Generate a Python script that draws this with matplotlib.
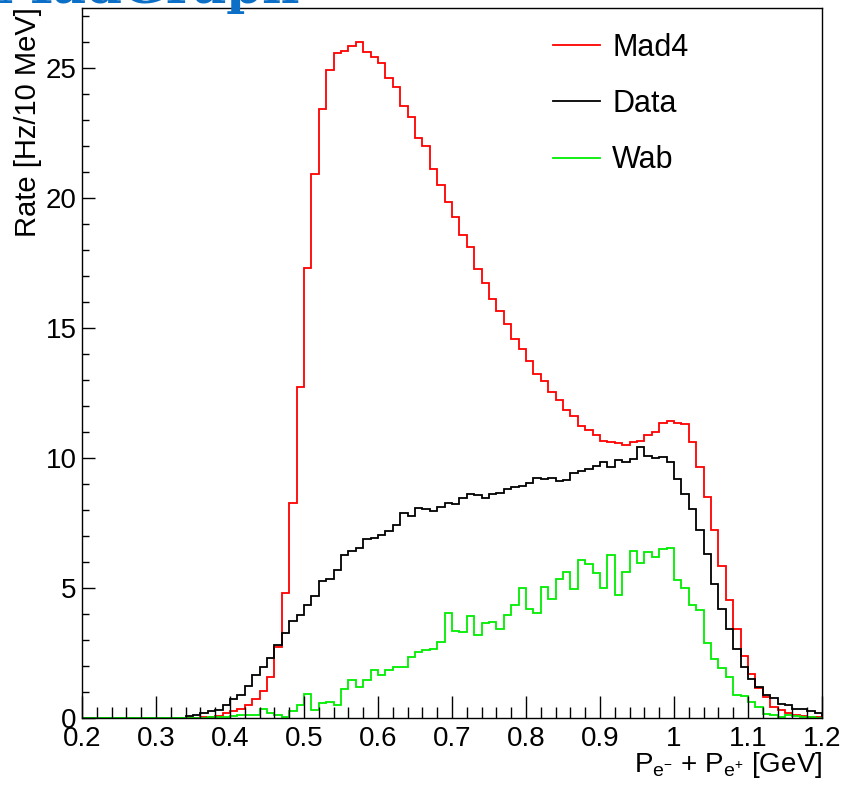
import numpy as np
import matplotlib
matplotlib.use("Agg")
import matplotlib.pyplot as plt
from matplotlib.ticker import MultipleLocator, FormatStrFormatter

plt.rcParams["font.family"] = ["Liberation Sans", "DejaVu Sans"]
plt.rcParams["mathtext.fontset"] = "custom"
plt.rcParams["mathtext.rm"] = "Liberation Sans"
plt.rcParams["mathtext.it"] = "Liberation Sans"

# 10 MeV bins from 0.2 to 1.2 GeV
x_lo, x_hi, n_bins = 0.2, 1.2, 100

mad4 = [
    0, 0, 0, 0, 0, 0, 0, 0, 0, 0,
    0, 0, 0, 0, 0, 0, 0.02, 0.04, 0.09, 0.18,
    0.26, 0.33, 0.49, 0.72, 1.03, 1.56, 2.74, 4.82, 8.27, 12.74,
    17.3, 20.9, 23.4, 24.9, 25.56, 25.64, 25.85, 26.0, 25.6, 25.4,
    25.2, 24.6, 24.25, 23.55, 23.1, 22.3, 22.0, 21.1, 20.5, 19.85,
    19.28, 18.59, 18.1, 17.28, 16.72, 16.13, 15.64, 15.15, 14.59, 14.2,
    13.74, 13.23, 12.97, 12.54, 12.23, 11.85, 11.6, 11.23, 11.08, 10.9,
    10.67, 10.6, 10.56, 10.49, 10.6, 10.67, 10.9, 11.0, 11.36, 11.41,
    11.36, 11.3, 10.6, 9.67, 8.5, 7.23, 5.85, 4.54, 3.41, 2.38,
    1.69, 1.15, 0.82, 0.43, 0.31, 0.2, 0.13, 0.08, 0.05, 0.03,
]

data = [
    0, 0, 0, 0, 0, 0, 0, 0, 0, 0,
    0, 0, 0, 0, 0.08, 0.13, 0.18, 0.26, 0.31, 0.49,
    0.72, 0.9, 1.23, 1.64, 1.95, 2.31, 2.82, 3.26, 3.72, 3.97,
    4.36, 4.69, 5.26, 5.36, 5.69, 6.26, 6.44, 6.54, 6.87, 6.92,
    7.03, 7.2, 7.44, 7.9, 7.77, 8.08, 8.05, 7.97, 8.1, 8.28,
    8.23, 8.44, 8.62, 8.56, 8.44, 8.62, 8.67, 8.82, 8.87, 8.92,
    9.05, 9.23, 9.18, 9.23, 9.1, 9.15, 9.43, 9.51, 9.59, 9.69,
    9.85, 9.67, 9.92, 9.85, 9.97, 10.41, 10.08, 10.0, 10.05, 9.85,
    9.2, 8.62, 8.05, 7.23, 6.31, 5.15, 4.2, 3.43, 2.67, 1.97,
    1.49, 1.18, 0.87, 0.77, 0.54, 0.49, 0.33, 0.33, 0.26, 0.18,
]

wab = [
    0, 0, 0, 0, 0, 0, 0, 0, 0, 0,
    0, 0, 0, 0, 0, 0, 0, 0.03, 0.05, 0.03,
    0.08, 0.1, 0.1, 0.13, 0.36, 0.2, 0.13, 0.05, 0.28, 0.49,
    0.92, 0.31, 0.56, 0.62, 0.49, 1.13, 1.46, 1.2, 1.46, 1.85,
    1.64, 1.85, 1.95, 1.95, 2.36, 2.54, 2.62, 2.67, 2.92, 4.03,
    3.36, 3.31, 3.92, 3.2, 3.64, 3.69, 3.43, 3.97, 4.36, 5.0,
    4.2, 4.03, 5.05, 4.59, 5.33, 5.62, 4.97, 6.08, 5.92, 5.59,
    5.0, 6.26, 4.72, 5.62, 6.41, 5.95, 6.38, 6.2, 6.49, 6.54,
    5.31, 5.0, 4.33, 4.15, 2.87, 2.28, 1.92, 1.56, 0.9, 0.85,
    0.62, 0.41, 0.15, 0.1, 0.05, 0.1, 0.08, 0.03, 0.03, 0.0,
]

series = [("Mad4", mad4, "#ff0000"), ("Data", data, "#000000"), ("Wab", wab, "#00ee00")]

edges = np.linspace(x_lo, x_hi, n_bins + 1)

fig = plt.figure(figsize=(8.44, 7.86), dpi=100)
ax = fig.add_axes([82 / 844, 1 - 718 / 786, 740 / 844, 710 / 786])

for label, vals, col in series:
    ax.stairs(vals, edges, color=col, lw=1.3, label=label)

ax.set_xlim(x_lo, x_hi)
ax.set_ylim(0, 27.3)

ax.xaxis.set_major_locator(MultipleLocator(0.1))
ax.xaxis.set_minor_locator(MultipleLocator(0.02))
ax.yaxis.set_major_locator(MultipleLocator(5))
ax.yaxis.set_minor_locator(MultipleLocator(1))
ax.xaxis.set_major_formatter(FormatStrFormatter("%g"))

ax.tick_params(axis="x", which="major", direction="in", length=16, width=1, labelsize=20, pad=6)
ax.tick_params(axis="x", which="minor", direction="in", length=8, width=1)
ax.tick_params(axis="y", which="major", direction="in", length=9, width=1, labelsize=20, pad=4)
ax.tick_params(axis="y", which="minor", direction="in", length=5, width=1)
for sp in ax.spines.values():
    sp.set_linewidth(1.0)

fig.text(28 / 844, 1 - 7 / 786, "Rate [Hz/10 MeV]", rotation=90,
         ha="center", va="top", fontsize=21)
ax.text(1.0, -0.066, r"P$_{\mathregular{e^{-}}}$ + P$_{\mathregular{e^{+}}}$ [GeV]",
        transform=ax.transAxes, ha="right", va="center", fontsize=20)

# title, cut off by the top of the canvas
fig.text(-0.004, 1 - 3 / 786, "MadGraph", fontsize=37, family="DejaVu Serif",
         weight="bold", color="#0b6fc7", ha="left", va="baseline")

ax.legend(loc="upper left", bbox_to_anchor=(0.636, 0.965), frameon=False,
          fontsize=22, handlelength=1.55, handletextpad=0.4, labelspacing=0.86,
          borderpad=0, borderaxespad=0)

fig.savefig("out.png", dpi=100)
